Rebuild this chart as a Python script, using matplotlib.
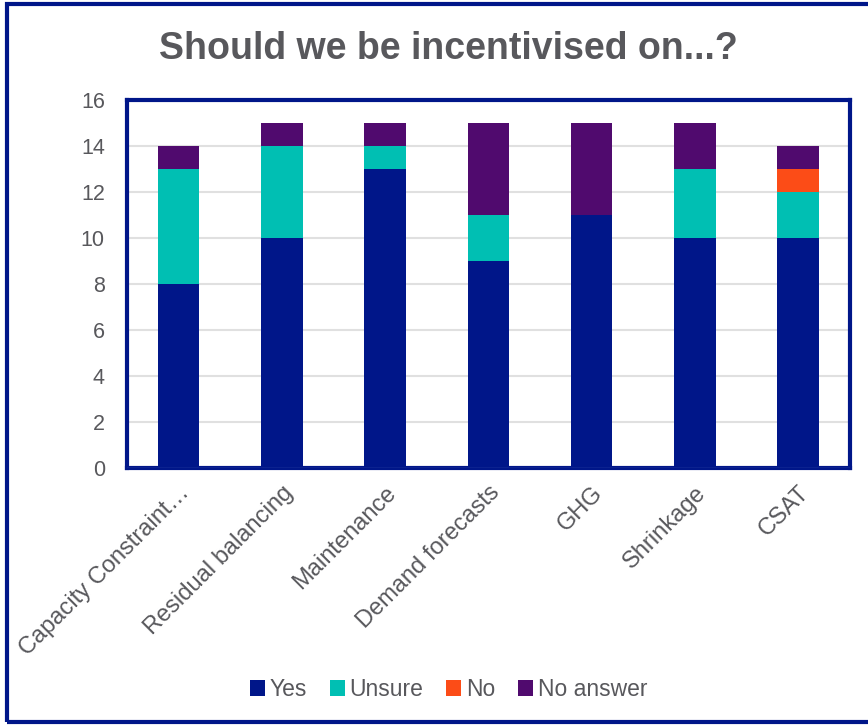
import numpy as np
import matplotlib.pyplot as plt
from matplotlib.patches import Rectangle

plt.rcParams['font.family'] = ['Liberation Sans', 'DejaVu Sans']

categories = ['Capacity Constraint…', 'Residual balancing', 'Maintenance',
              'Demand forecasts', 'GHG', 'Shrinkage', 'CSAT']
yes = [8, 10, 13, 9, 11, 10, 10]
unsure = [5, 4, 1, 2, 0, 3, 2]
no = [0, 0, 0, 0, 0, 0, 1]
no_answer = [1, 1, 1, 4, 4, 2, 1]

series = [('Yes', yes, '#001689'), ('Unsure', unsure, '#00BFB3'),
          ('No', no, '#FC4C17'), ('No answer', no_answer, '#500A6E')]

grey = '#58585C'
navy = '#001689'

fig = plt.figure(figsize=(8.68, 7.25), dpi=100)
ax = fig.add_axes([0.1463, 0.3545, 0.8327, 0.5075])

x = np.arange(len(categories))
bottom = np.zeros(len(categories))
for name, vals, col in series:
    ax.bar(x, vals, 0.4, bottom=bottom, color=col, label=name, zorder=3)
    bottom += np.array(vals)

ax.set_xlim(-0.5, len(categories) - 0.5)
ax.set_ylim(0, 16)
ax.set_yticks(range(0, 17, 2))
ax.yaxis.grid(True, color='#E0E0E0', linewidth=1.5, zorder=0)
ax.set_xticks(x)
ax.set_xticklabels(categories, rotation=45, ha='right', rotation_mode='anchor')
ax.tick_params(axis='both', length=0, labelcolor=grey)
ax.tick_params(axis='y', pad=16, labelsize=15.5)
ax.tick_params(axis='x', pad=10, labelsize=17)
for s in ax.spines.values():
    s.set_color(navy)
    s.set_linewidth(3)
ax.axhline(0, color='#3A4FA8', linewidth=1, zorder=4)

fig.suptitle('Should we be incentivised on...?', x=0.517, y=0.957,
             fontsize=27, fontweight='bold', color=grey)

fig.legend(loc='center', bbox_to_anchor=(0.517, 0.049), ncol=4, frameon=False,
           fontsize=16.5, labelcolor=grey, handlelength=0.65, handleheight=0.7,
           handletextpad=0.2, columnspacing=1.0)

fig.patches.append(Rectangle((0.0075, 0.004), 1.1, 0.99, transform=fig.transFigure,
                             fill=False, edgecolor=navy, linewidth=3))

fig.savefig('out.png', dpi=100)
